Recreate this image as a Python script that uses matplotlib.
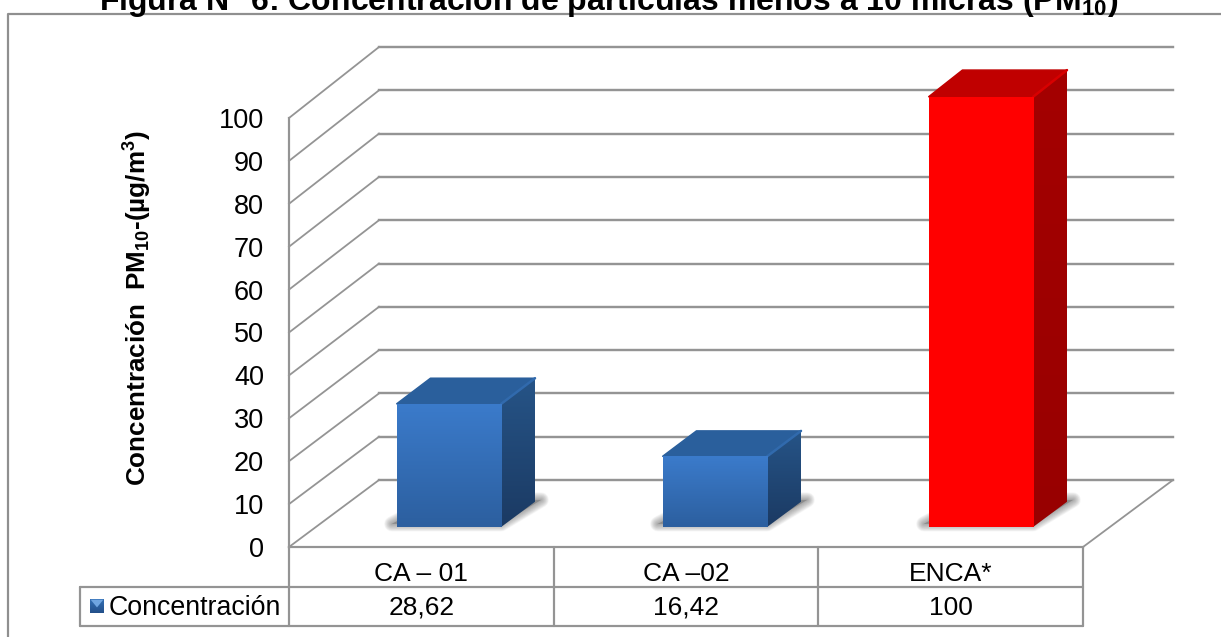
import numpy as np
import matplotlib
matplotlib.use("Agg")
import matplotlib.pyplot as plt
from matplotlib.patches import Polygon, Rectangle
from matplotlib.lines import Line2D
from matplotlib.transforms import Affine2D, IdentityTransform
from matplotlib.colors import LinearSegmentedColormap

categories = ["CA – 01", "CA –02", "ENCA*"]
value_labels = ["28,62", "16,42", "100"]
values = [28.62, 16.42, 100]
y_ticks = list(range(0, 101, 10))
series_name = "Concentración"

plt.rcParams["font.family"] = ["Liberation Sans", "DejaVu Sans"]
plt.rcParams["mathtext.fontset"] = "custom"
plt.rcParams["mathtext.rm"] = "Liberation Sans"
plt.rcParams["mathtext.bf"] = "Liberation Sans:bold"
plt.rcParams["mathtext.it"] = "Liberation Sans:italic"

W, H = 1221, 637
DPI = 100
GRID = "#949494"
px = 72 / DPI

fig = plt.figure(figsize=(W / DPI, H / DPI), dpi=DPI, facecolor="white")
X0, X1, Y0, Y100 = 289, 1083, 547, 118
ax = fig.add_axes([X0 / W, (H - Y0) / H, (X1 - X0) / W, (Y0 - Y100) / H])
ax.patch.set_alpha(0)
ax.set_xlim(0, 3)
ax.set_ylim(0, 100)
ax.set_autoscale_on(False)
for s in ax.spines.values():
    s.set_visible(False)


def depth(z):
    """Transform that pushes a front-plane point z of the way to the back wall."""
    base = H - Y0
    shift = Affine2D().translate(0, -base).scale(1, 1 + 0.0093 * z).translate(90 * z, base + 67 * z)
    return ax.transData + shift


def page_line(xs, ys, **kw):
    fig.add_artist(Line2D(xs, [H - y for y in ys], transform=IdentityTransform(),
                          color=kw.pop("color", GRID), lw=kw.pop("lw", 2.2 * px),
                          solid_capstyle="round", **kw))


def wall_edge(a, b):
    ax.add_line(Line2D([a[0], b[0]], [a[1], b[1]], transform=IdentityTransform(), color=GRID,
                       lw=1.8 * px, zorder=1, clip_on=False))


# Outer chart border
page_line([8, 8, W + 2], [H + 2, 13.5, 13.5], color="#8f8f8f")

# Back wall, side wall and floor
for t in y_ticks:
    ax.plot([0, 3], [t, t], transform=depth(1), color=GRID, lw=2.4 * px, zorder=1, clip_on=False)
    wall_edge(ax.transData.transform((0, t)), depth(1).transform((0, t)))
wall_edge(ax.transData.transform((3, 0)), depth(1).transform((3, 0)))
ax.plot([0, 0], [0, 100], color=GRID, lw=2.2 * px, zorder=2, clip_on=False)
ax.plot([0, 3], [0, 0], color=GRID, lw=2.2 * px, zorder=2, clip_on=False)

BLUE = dict(front=["#3b7bcb", "#2c5f9f"], side=["#265487", "#1b3a63"], top="#2a5f9c", edge="#316aad")
RED = dict(front=["#ff0000", "#ff0000"], side=["#a40000", "#980000"], top="#c00000", edge="#d80000")
styles = [BLUE, BLUE, RED]

Z_FRONT, Z_BACK = 0.30, 0.675
BAR_W = 0.395
BAR_PITCH = 1.005


def gradient(extent, colors, clip, zorder):
    cmap = LinearSegmentedColormap.from_list("g", colors)
    im = ax.imshow(np.linspace(0, 1, 128)[:, None], cmap=cmap, extent=extent, aspect="auto",
                   zorder=zorder, interpolation="bilinear")
    im.set_clip_box(fig.bbox)
    im.set_clip_path(clip)


def pts(x, v, t):
    # Position on the front plane that lands where transform t sends (x, v)
    return ax.transData.inverted().transform(t.transform((x, v)))


for i, (val, st) in enumerate(zip(values, styles)):
    centre = (i + 0.5) * BAR_PITCH
    left, right = centre - BAR_W / 2, centre + BAR_W / 2
    tf = depth(Z_FRONT)
    tb = depth(Z_BACK)
    z = 3 + i * 0.1

    # Soft floor shadow, built up from widening translucent layers
    fl = tf.transform((left, 0))
    fr = tf.transform((right, 0))
    shadow = [(fl[0] - 5, fl[1] + 3), (fr[0], fr[1] + 3), (fr[0] + 40, fr[1] + 27), (fl[0] + 40, fl[1] + 27)]
    for w in np.linspace(15, 1, 12):
        ax.add_patch(Polygon(shadow, closed=True, transform=IdentityTransform(), facecolor="none",
                             edgecolor="#666666", lw=w * px, alpha=0.06, joinstyle="round", zorder=z,
                             clip_on=False))
    ax.add_patch(Polygon(shadow, closed=True, transform=IdentityTransform(), facecolor="#8c8c8c",
                         edgecolor="none", zorder=z, clip_on=False))

    # Side face
    side_pts = [pts(right, 0, tf), pts(right, val, tf), pts(right, val, tb), pts(right, 0, tb)]
    side = Polygon(side_pts, closed=True, facecolor="none", edgecolor="none", zorder=z + 0.01, clip_on=False)
    ax.add_patch(side)
    top_y = max(p[1] for p in side_pts)
    bot_y = min(p[1] for p in side_pts)
    gradient([side_pts[0][0], side_pts[2][0], bot_y, top_y], st["side"], side, z + 0.02)

    # Top face
    top_pts = [pts(left, val, tf), pts(right, val, tf), pts(right, val, tb), pts(left, val, tb)]
    ax.add_patch(Polygon(top_pts, closed=True, facecolor=st["top"], edgecolor=st["top"], lw=1.5 * px,
                         joinstyle="round", zorder=z + 0.03, clip_on=False))
    ax.add_line(Line2D([top_pts[1][0], top_pts[2][0]], [top_pts[1][1], top_pts[2][1]], color=st["edge"],
                       lw=2.5 * px, solid_capstyle="round", zorder=z + 0.04, clip_on=False))

    # Front face
    pl, pr = pts(left, 0, tf), pts(right, val, tf)
    front = Rectangle((pl[0], pl[1]), pr[0] - pl[0], pr[1] - pl[1], facecolor="none", edgecolor="none",
                      zorder=z + 0.05, clip_on=False)
    ax.add_patch(front)
    gradient([pl[0], pr[0], pl[1], pr[1]], st["front"], front, z + 0.06)

ax.set_xlim(0, 3)
ax.set_ylim(0, 100)
ax.set_xticks([])
ax.set_yticks(y_ticks)
ax.tick_params(axis="y", length=0, pad=25 * px, labelsize=19.5)

ax.set_ylabel(r"Concentración  PM$_{\mathbf{10}}$-(µg/m$^{\mathbf{3}}$)", fontsize=18.7, fontweight="bold")
ax.yaxis.set_label_coords((154 - X0) / (X1 - X0), (Y0 - 308) / (Y0 - Y100))

# Data table below the floor
table_top, row_mid, table_bottom, table_left = 547, 587, 626, 80
for c in range(4):
    x = ax.transData.transform((c, 0))[0]
    page_line([x, x], [table_top, table_bottom])
page_line([X0, X1], [row_mid, row_mid])
page_line([table_left, X1], [table_bottom, table_bottom])
page_line([table_left, X0], [row_mid, row_mid])
page_line([table_left, table_left], [row_mid, table_bottom])

for i, (c, v) in enumerate(zip(categories, value_labels)):
    cx = ax.transData.transform((i + 0.5, 0))[0]
    fig.text(cx / W, (H - 574) / H, c, fontsize=19, ha="center", va="center", color="black")
    fig.text(cx / W, (H - 608) / H, v, fontsize=19, ha="center", va="center", color="black")
fig.text(109 / W, (H - 608) / H, series_name, fontsize=19.3, ha="left", va="center", color="black")

# Legend key with its lighter upper bevel
key = fig.add_axes([90 / W, (H - 613) / H, 14 / W, 14 / H])
key.axis("off")
key.imshow(np.linspace(0, 1, 32)[:, None], cmap=LinearSegmentedColormap.from_list("k", ["#3572b8", "#23508a"]),
           extent=[0, 1, 0, 1], aspect="auto")
key.add_patch(Polygon([(0.05, 0.95), (0.95, 0.95), (0.5, 0.4)], facecolor="#6fa5e0", edgecolor="none"))

fig.text(609 / W, (H - 10) / H, r"Figura N° 6: Concentración de partículas menos a 10 micras (PM$_{\mathbf{10}}$)",
         fontsize=23, fontweight="bold", ha="center", va="baseline", color="black")

fig.savefig("out.png", dpi=DPI, facecolor="white")
